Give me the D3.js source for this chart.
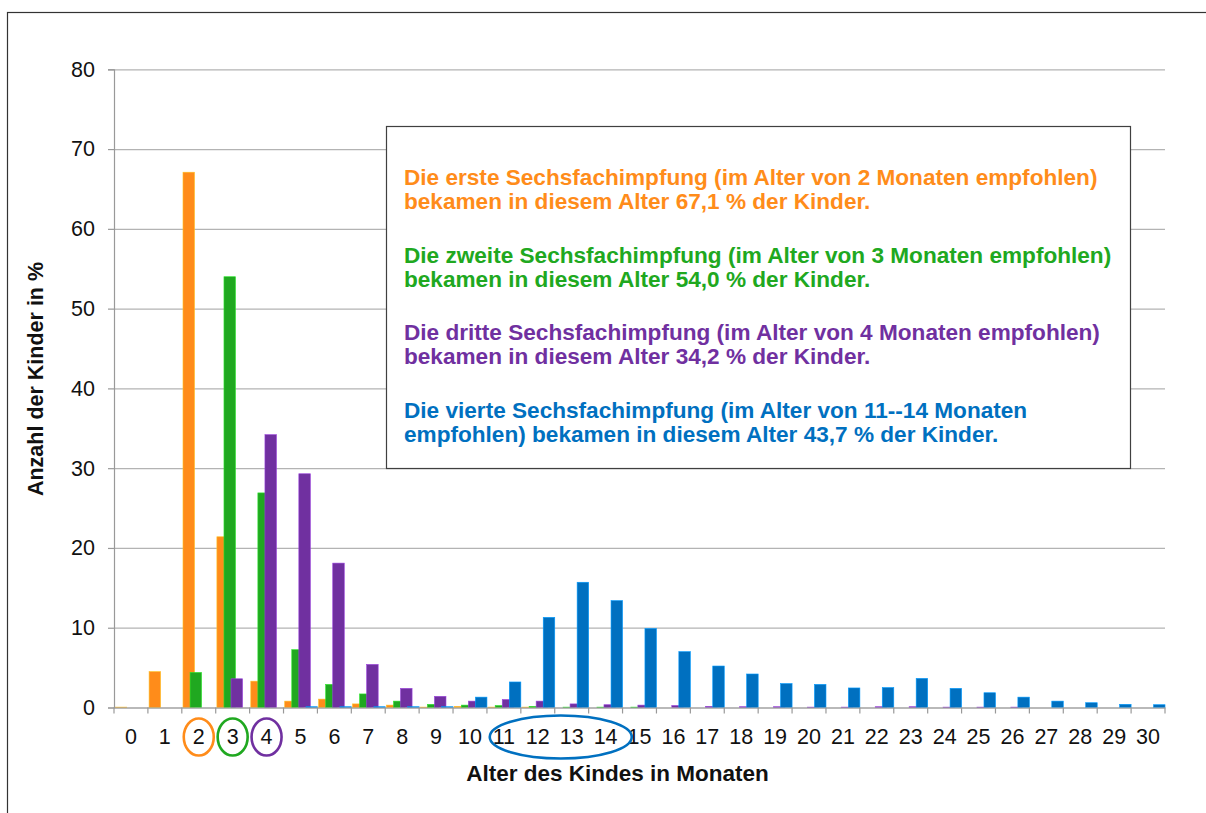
<!DOCTYPE html>
<html>
<head>
<meta charset="utf-8">
<script src="https://cdnjs.cloudflare.com/ajax/libs/d3/7.8.5/d3.min.js"></script>
<style>
  body { margin: 0; background: #fff; }
  svg { display: block; font-family: "Liberation Sans", Arial, sans-serif; }
</style>
</head>
<body>
<svg id="canvas"></svg>
<script>
// months (x categories)
let months = d3.range(0, 31);

// share of children (%) per month, one array per dose
let ersteDosis = [0.05, 4.5, 67.1, 21.4, 3.3, 0.8, 1.05, 0.45, 0.3, 0.05, 0.15, 0.05, 0.05, 0, 0, 0, 0, 0, 0, 0, 0, 0, 0, 0, 0, 0, 0, 0, 0, 0, 0];
let zweiteDosis = [0, 0, 4.4, 54.0, 26.9, 7.25, 2.9, 1.7, 0.8, 0.4, 0.3, 0.25, 0.15, 0.05, 0.05, 0.05, 0, 0, 0, 0, 0, 0, 0, 0, 0, 0, 0, 0, 0, 0, 0];
let dritteDosis = [0, 0, 0, 3.6, 34.2, 29.3, 18.1, 5.4, 2.4, 1.4, 0.8, 1.0, 0.8, 0.45, 0.35, 0.3, 0.25, 0.15, 0.1, 0.1, 0.05, 0.05, 0.1, 0.1, 0.05, 0.05, 0.05, 0, 0, 0, 0];
let vierteDosis = [0, 0, 0, 0, 0, 0.1, 0.1, 0.1, 0.1, 0.1, 1.3, 3.2, 11.3, 15.7, 13.4, 9.9, 7.0, 5.2, 4.2, 3.0, 2.9, 2.45, 2.5, 3.65, 2.4, 1.85, 1.3, 0.8, 0.6, 0.4, 0.35];

let yTicks = [0, 10, 20, 30, 40, 50, 60, 70, 80];

// text box lines
let notes = [
    ["Die erste Sechsfachimpfung (im Alter von 2 Monaten empfohlen)", "bekamen in diesem Alter 67,1 % der Kinder."],
    ["Die zweite Sechsfachimpfung (im Alter von 3 Monaten empfohlen)", "bekamen in diesem Alter 54,0 % der Kinder."],
    ["Die dritte Sechsfachimpfung (im Alter von 4 Monaten empfohlen)", "bekamen in diesem Alter 34,2 % der Kinder."],
    ["Die vierte Sechsfachimpfung (im Alter von 11--14 Monaten", "empfohlen) bekamen in diesem Alter 43,7 % der Kinder."]
];

let colors = ['#FF8C1A', '#20A820', '#7030A0', '#0070C0'];
let series = [ersteDosis, zweiteDosis, dritteDosis, vierteDosis];

let width = 1206;
let height = 813;
let plotLeft = 114, plotRight = 1165, plotTop = 69.3, plotBottom = 707.5;

let canvas = d3.select('#canvas')
    .attr('width', width)
    .attr('height', height);

// outer frame (cut off at right / bottom like the original)
canvas.append('rect')
    .attr('x', 7.5).attr('y', 12.5)
    .attr('width', 1210).attr('height', 820)
    .attr('fill', 'none')
    .attr('stroke', '#333')
    .attr('stroke-width', 1.2);

let xScale = d3.scaleBand().domain(months).range([plotLeft, plotRight]).padding(0);
let yScale = d3.scaleLinear().domain([0, 80]).range([plotBottom, plotTop]);

// gridlines
canvas.append('g')
    .attr('transform', 'translate(' + plotLeft + ',0)')
    .call(d3.axisLeft(yScale).tickValues(yTicks).tickSize(-(plotRight - plotLeft)).tickFormat(''))
    .call(g => g.select('.domain').remove())
    .call(g => g.selectAll('line').attr('stroke', '#b3b3b3').attr('stroke-width', 1.2));

// bars: series overlap a bit inside each month
let bw = xScale.bandwidth();
series.forEach((vals, i) => {
    canvas.append('g')
        .selectAll('rect')
        .data(vals)
        .enter()
        .append('rect')
        .attr('x', (d, k) => xScale(months[k]) + bw * 0.035 + i * bw * 0.2085)
        .attr('y', d => yScale(d))
        .attr('width', bw * 0.34)
        .attr('height', d => plotBottom - yScale(d))
        .attr('fill', colors[i])
        .attr('stroke', d3.color(colors[i]).brighter(0.9))
        .attr('stroke-width', 0.6);
});

// y axis
let yAxis = canvas.append('g')
    .attr('transform', 'translate(' + plotLeft + ',0)')
    .call(d3.axisLeft(yScale).tickValues(yTicks).tickSize(6).tickPadding(13));
yAxis.select('.domain').attr('stroke', '#999').attr('stroke-width', 1.2);
yAxis.selectAll('line').attr('stroke', '#999').attr('stroke-width', 1.2);
yAxis.selectAll('text').attr('font-size', 21.5).attr('fill', '#111').attr('font-family', null);

// x axis: boundary ticks + centred labels
let xAxis = canvas.append('g')
    .attr('transform', 'translate(0,' + plotBottom + ')')
    .call(d3.axisBottom(xScale).tickSize(0).tickPadding(21));
xAxis.select('.domain').attr('stroke', '#999').attr('stroke-width', 1.2);
xAxis.selectAll('text').attr('font-size', 21.5).attr('fill', '#111').attr('font-family', null);

canvas.append('g')
    .selectAll('line')
    .data(d3.range(0, months.length + 1))
    .enter()
    .append('line')
    .attr('x1', k => plotLeft + k * bw)
    .attr('x2', k => plotLeft + k * bw)
    .attr('y1', plotBottom)
    .attr('y2', plotBottom + 6)
    .attr('stroke', '#999')
    .attr('stroke-width', 1.2);

// highlighted months on the x axis
let marks = [
    {from: 2, to: 2, color: colors[0], rx: 15, ry: 18.5, dx: 0},
    {from: 3, to: 3, color: colors[1], rx: 15, ry: 18.5, dx: 0},
    {from: 4, to: 4, color: colors[2], rx: 15, ry: 18.5, dx: 0},
    {from: 11, to: 14, color: colors[3], rx: 71, ry: 21.5, dx: 6}
];
canvas.append('g')
    .selectAll('ellipse')
    .data(marks)
    .enter()
    .append('ellipse')
    .attr('cx', d => (xScale(d.from) + xScale(d.to) + bw) / 2 + d.dx)
    .attr('cy', plotBottom + 29.5)
    .attr('rx', d => d.rx)
    .attr('ry', d => d.ry)
    .attr('fill', 'none')
    .attr('stroke', d => d.color)
    .attr('stroke-width', 2.6);

// axis titles
canvas.append('text')
    .attr('x', (plotLeft + plotRight) / 2 - 22)
    .attr('y', 781)
    .attr('text-anchor', 'middle')
    .attr('font-size', 22.5)
    .attr('font-weight', 'bold')
    .attr('fill', '#111')
    .text('Alter des Kindes in Monaten');

canvas.append('text')
    .attr('transform', 'translate(43,' + 379 + ') rotate(-90)')
    .attr('text-anchor', 'middle')
    .attr('font-size', 21.5)
    .attr('font-weight', 'bold')
    .attr('fill', '#111')
    .text('Anzahl der Kinder in %');

// note box
canvas.append('rect')
    .attr('x', 386.5).attr('y', 126.5)
    .attr('width', 744).attr('height', 342)
    .attr('fill', '#fff')
    .attr('stroke', '#404040')
    .attr('stroke-width', 1.2);

let noteG = canvas.append('g');
notes.forEach((lines, i) => {
    lines.forEach((line, j) => {
        noteG.append('text')
            .attr('x', 404)
            .attr('y', 185 + i * 77.7 + j * 24)
            .attr('font-size', 22.6)
            .attr('font-weight', 'bold')
            .attr('fill', colors[i])
            .text(line);
    });
});
</script>
</body>
</html>
